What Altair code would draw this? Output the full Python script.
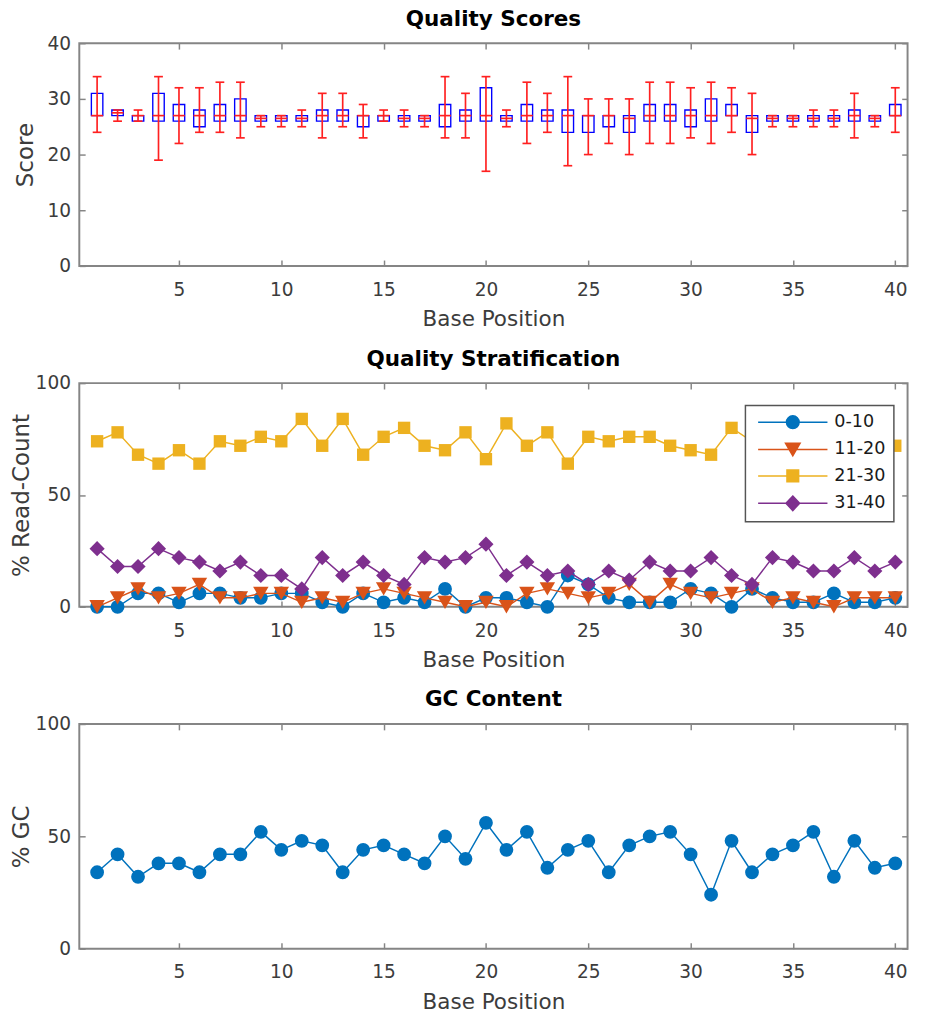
import altair as alt
import pandas as pd

positions = list(range(1, 41))

# ---- Panel 1: quality score boxes ----
whisker_low = [24, 26, 26, 19, 22, 24, 24, 23, 25, 25,
               25, 23, 25, 23, 26, 25, 25, 23, 23, 17,
               25, 22, 24, 18, 20, 22, 20, 22, 22, 23,
               22, 24, 20, 25, 25, 25, 25, 23, 25, 24]
box_q1 = [27, 27, 26, 26, 26, 25, 26, 26, 26, 26,
          26, 26, 26, 25, 26, 26, 26, 25, 26, 26,
          26, 26, 26, 24, 24, 25, 24, 26, 26, 25,
          26, 27, 24, 26, 26, 26, 26, 26, 26, 27]
box_median = [27, 27.5, 27, 27, 27, 27, 27, 27, 26.5, 26.5,
              26.5, 27, 27, 27, 27, 26.5, 26.5, 27, 27, 27,
              26.5, 27, 27, 27, 27, 27, 26.5, 27, 27, 27,
              27, 27, 26.5, 26.5, 26.5, 26.5, 26.5, 27, 26.5, 27]
box_q3 = [31, 28, 27, 31, 29, 28, 29, 30, 27, 27,
          27, 28, 28, 27, 27, 27, 27, 29, 28, 32,
          27, 29, 28, 28, 27, 27, 27, 29, 29, 28,
          30, 29, 27, 27, 27, 27, 27, 28, 27, 29]
whisker_high = [34, 28, 28, 34, 32, 32, 33, 33, 27, 27,
                28, 31, 31, 29, 28, 28, 27, 34, 31, 34,
                28, 33, 31, 34, 30, 30, 30, 33, 33, 32,
                33, 32, 31, 27, 27, 28, 28, 31, 27, 32]

# ---- Panel 2: quality stratification ----
series_names = ["0-10", "11-20", "21-30", "31-40"]
series_colors = ["#0072BD", "#D95319", "#EDB120", "#7E2F8E"]
pct_0_10 = [0, 0, 6, 6, 2, 6, 6, 4, 4, 6,
            6, 2, 0, 6, 2, 4, 2, 8, 0, 4,
            4, 2, 0, 14, 10, 4, 2, 2, 2, 8,
            6, 0, 8, 4, 2, 2, 6, 2, 2, 4]
pct_11_20 = [0, 4, 8, 4, 6, 10, 4, 4, 6, 6,
             2, 4, 2, 6, 8, 6, 4, 2, 0, 2,
             0, 6, 8, 6, 4, 6, 10, 2, 10, 6,
             4, 6, 8, 2, 4, 2, 0, 4, 4, 4]
pct_21_30 = [74, 78, 68, 64, 70, 64, 74, 72, 76, 74,
             84, 72, 84, 68, 76, 80, 72, 70, 78, 66,
             82, 72, 78, 64, 76, 74, 76, 76, 72, 70,
             68, 80, 74, 72, 74, 80, 78, 72, 78, 72]
pct_31_40 = [26, 18, 18, 26, 22, 20, 16, 20, 14, 14,
             8, 22, 14, 20, 14, 10, 22, 20, 22, 28,
             14, 20, 14, 16, 10, 16, 12, 20, 16, 16,
             22, 14, 10, 22, 20, 16, 16, 22, 16, 20]

# ---- Panel 3: GC content ----
gc_pct = [34, 42, 32, 38, 38, 34, 42, 42, 52, 44,
          48, 46, 34, 44, 46, 42, 38, 50, 40, 56,
          44, 52, 36, 44, 48, 34, 46, 50, 52, 42,
          24, 48, 34, 42, 46, 52, 32, 48, 36, 38]

x_ticks = [5, 10, 15, 20, 25, 30, 35, 40]
score_ticks = [0, 10, 20, 30, 40]
pct_ticks = [0, 50, 100]

# ---------------- styling ----------------
FONT = "DejaVu Sans"
FRAME = "#858585"
TXT = "#3c3c3c"
W = 848
H1, H2, H3 = 228, 229, 230

df1 = pd.DataFrame({"pos": positions, "lo": whisker_low, "q1": box_q1,
                    "med": box_median, "q3": box_q3, "hi": whisker_high})
rows = []
for name, vals in zip(series_names, [pct_0_10, pct_11_20, pct_21_30, pct_31_40]):
    for p, v in zip(positions, vals):
        rows.append({"pos": p, "series": name, "pct": v})
df2 = pd.DataFrame(rows)
df3 = pd.DataFrame({"pos": positions, "gc": gc_pct})

xs = alt.Scale(domain=[0.13, 40.6], nice=False, zero=False)


def bottom_axis():
    return alt.Axis(orient="bottom", offset=-6, domain=False, tickSize=6, values=x_ticks,
                    grid=False, labelFontSize=19, labelPadding=15, title="Base Position",
                    titleFontSize=22, titlePadding=10)


def top_ticks(h):
    # inward ticks along the top edge (a bottom axis moved up to the top edge)
    return alt.Axis(orient="bottom", offset=-h, domain=False, tickSize=6, values=x_ticks,
                    grid=False, labels=False, title=None)


def left_axis(title, vals, pad):
    return alt.Axis(orient="left", offset=-6, domain=False, tickSize=6, values=vals,
                    grid=False, labelFontSize=19, labelPadding=9, title=title,
                    titleFontSize=23.5, titlePadding=pad)


def right_ticks(vals):
    # inward ticks along the right edge (a left axis moved to the right edge)
    return alt.Axis(orient="left", offset=-W, domain=False, tickSize=6, values=vals,
                    grid=False, labels=False, title=None)


# ---- Panel 1 ----
ys1 = alt.Scale(domain=[0, 40], nice=False)
base1 = alt.Chart(df1)
boxes = base1.transform_calculate(
    xl="datum.pos - 0.28", xr="datum.pos + 0.28"
).mark_rect(fill="transparent", stroke="#0000FF", strokeWidth=1.4).encode(
    x=alt.X("xl:Q", scale=xs, axis=None),
    x2="xr:Q",
    y=alt.Y("q1:Q", scale=ys1, axis=None),
    y2="q3:Q",
)
whiskers = base1.mark_rule(color="#FF2020", strokeWidth=1.7).encode(
    x=alt.X("pos:Q", scale=xs, axis=bottom_axis()),
    y=alt.Y("lo:Q", scale=ys1, axis=left_axis("Score", score_ticks, 10)),
    y2="hi:Q",
)
caps_lo = base1.mark_tick(orient="horizontal", size=9, thickness=1.7, color="#FF2020", opacity=1).encode(
    x=alt.X("pos:Q", scale=xs, axis=top_ticks(H1)),
    y=alt.Y("lo:Q", scale=ys1, axis=right_ticks(score_ticks)),
)
caps_hi = base1.mark_tick(orient="horizontal", size=9, thickness=1.7, color="#FF2020", opacity=1).encode(
    x=alt.X("pos:Q", scale=xs, axis=None),
    y=alt.Y("hi:Q", scale=ys1, axis=None),
)
medians = base1.mark_tick(orient="horizontal", size=12, thickness=1.7, color="#FF2020", opacity=1).encode(
    x=alt.X("pos:Q", scale=xs, axis=None),
    y=alt.Y("med:Q", scale=ys1, axis=None),
)
panel1 = alt.layer(boxes, whiskers, caps_lo, caps_hi, medians).resolve_axis(
    x="independent", y="independent"
).properties(width=W, height=H1, title="Quality Scores")

# ---- Panel 2 ----
ys2 = alt.Scale(domain=[0, 100], nice=False)
plot_shapes = ["circle", "triangle-down", "square", "diamond"]
plot_sizes = [200, 250, 160, 240]

L = 5.46  # half length of the legend line, in symbol units
legend_paths = [
    f"M-{L},0H{L}M1,0A1,1,0,1,1,-1,0A1,1,0,1,1,1,0Z",
    f"M-{L},0H{L}M-1.15,-1L1.15,-1L0,1Z",
    f"M-{L},0H{L}M-0.92,-0.92H0.92V0.92H-0.92Z",
    f"M-{L},0H{L}M0,-1.15L1.08,0L0,1.15L-1.08,0Z",
]


def make_legend():
    return alt.Legend(
        title=None, orient="none", legendX=682, legendY=23, fillColor="white",
        strokeColor="#555555", padding=8, symbolSize=169, symbolOffset=31.5,
        labelOffset=33.5, labelFontSize=18, labelColor="#1a1a1a", rowPadding=8,
        symbolStrokeWidth=1.5, symbolOpacity=1,
    )


layers2 = []
for i, name in enumerate(series_names):
    b = alt.Chart(df2).transform_filter(alt.datum.series == name)
    ln = b.mark_line(strokeWidth=1.5, color=series_colors[i]).encode(
        x=alt.X("pos:Q", scale=xs, axis=bottom_axis() if i == 0 else None),
        y=alt.Y("pct:Q", scale=ys2, axis=left_axis("% Read-Count", pct_ticks, 2) if i == 0 else None),
    )
    pt = b.mark_point(filled=True, opacity=1, shape=plot_shapes[i], size=plot_sizes[i],
                      color=series_colors[i]).encode(
        x=alt.X("pos:Q", scale=xs, axis=top_ticks(H2) if i == 0 else None),
        y=alt.Y("pct:Q", scale=ys2, axis=right_ticks(pct_ticks) if i == 0 else None),
    )
    layers2 += [ln, pt]

# legend-only layer (its marks are invisible): line + marker symbols
legend_layer = alt.Chart(df2).mark_point(opacity=0, size=169).encode(
    x=alt.X("pos:Q", scale=xs, axis=None),
    y=alt.Y("pct:Q", scale=ys2, axis=None),
    fill=alt.Fill("series:N", scale=alt.Scale(domain=series_names, range=series_colors), legend=make_legend()),
    stroke=alt.Stroke("series:N", scale=alt.Scale(domain=series_names, range=series_colors), legend=make_legend()),
    shape=alt.Shape("series:N", scale=alt.Scale(domain=series_names, range=legend_paths), legend=make_legend()),
)
layers2.append(legend_layer)

panel2 = alt.layer(*layers2).resolve_axis(x="independent", y="independent").properties(
    width=W, height=H2, title="Quality Stratification")

# ---- Panel 3 ----
base3 = alt.Chart(df3)
gc_line = base3.mark_line(strokeWidth=1.5, color="#0072BD").encode(
    x=alt.X("pos:Q", scale=xs, axis=bottom_axis()),
    y=alt.Y("gc:Q", scale=ys2, axis=left_axis("% GC", pct_ticks, 2)),
)
gc_pts = base3.mark_point(filled=True, opacity=1, shape="circle", size=200, color="#0072BD").encode(
    x=alt.X("pos:Q", scale=xs, axis=top_ticks(H3)),
    y=alt.Y("gc:Q", scale=ys2, axis=right_ticks(pct_ticks)),
)
panel3 = alt.layer(gc_line, gc_pts).resolve_axis(x="independent", y="independent").properties(
    width=W, height=H3, title="GC Content")

chart = alt.vconcat(panel1, panel2, panel3, spacing=17).resolve_scale(
    fill="independent", stroke="independent", shape="independent"
).resolve_legend(
    fill="independent", stroke="independent", shape="independent"
).properties(
    padding={"left": 0, "top": -13, "right": 0, "bottom": -4}
).configure_view(stroke=FRAME, strokeWidth=2).configure_axis(
    labelFont=FONT, titleFont=FONT, labelColor=TXT, titleColor=TXT,
    tickColor=FRAME, tickWidth=1.5, titleFontWeight="normal",
).configure_title(
    font=FONT, fontSize=22, fontWeight="bold", color="black", anchor="middle",
    frame="group", baseline="alphabetic", offset=0,
).configure_legend(labelFont=FONT, strokeWidth=1.5)

chart.save("out.html", embed_options={"renderer": "svg", "actions": False})
